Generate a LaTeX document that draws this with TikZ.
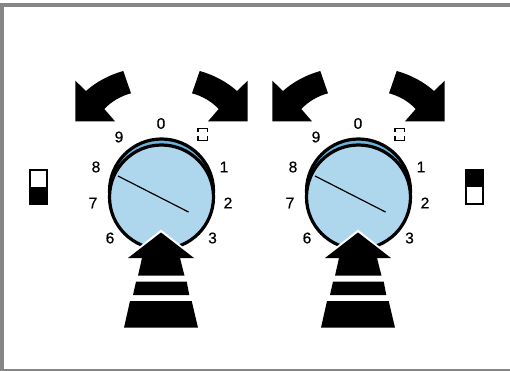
\documentclass[tikz,border=0pt]{standalone}
\usepackage{fontspec}
\setmainfont{Liberation Sans}
\newfontfamily\dialfont[FakeBold=0.5]{Liberation Sans}
\definecolor{dialface}{HTML}{AED6EC}
\definecolor{dialback}{HTML}{6FB3DC}
\definecolor{frameg}{HTML}{858585}
\tikzset{
  lbl/.style={font=\dialfont\fontsize{15.5}{15.5}\selectfont,inner sep=0pt,text=black},
  ring/.style={draw=black,line width=3.2pt},
  needle/.style={draw=black,line width=1.2pt},
  solid black/.style={fill=black,draw=none},
  halo/.style={fill=black,draw=white,line width=3pt,line join=miter},
  swbody/.style={draw=black,line width=2pt,fill=white},
  pictosq/.style={draw=black,line width=1.2pt}
}
\newcommand{\dial}[1]{%
\begin{scope}[xshift=#1pt]
  \draw[solid black] (75.3,80.7) -- (86,91) .. controls (96,82) and (109,75) .. (123.3,71)
    -- (131,93.3) .. controls (121,96) and (112,101) .. (104.3,109) -- (115,121.3) -- (75.3,121.3) -- cycle;
  \draw[solid black] (247.7,80.7) -- (237,91) .. controls (227,82) and (214,75) .. (199.7,71)
    -- (192,93.3) .. controls (202,96) and (211,101) .. (218.7,109) -- (208,121.3) -- (247.7,121.3) -- cycle;
  \path[fill=dialback,ring] (161.5,191) circle (52);
  \path[fill=dialface,ring] (161.5,197) circle (52);
  \draw[needle] (118,176) -- (188.5,212);
  \draw[halo] (161,231.5) -- (195,258.5) -- (127,258.5) -- cycle;
  \fill[white] (142,262) rectangle (180,254);
  \draw[solid black] (161,232.5) -- (194,258) -- (180,258) -- (184.5,275.7) -- (138,275.7) -- (142,258) -- (128,258) -- cycle;
  \draw[solid black] (136,281.7) -- (186.7,281.7) -- (189.3,295) -- (133,295) -- cycle;
  \draw[solid black] (130,301) -- (191.7,301) -- (198,327.7) -- (124,327.7) -- cycle;
  \node[lbl] at (161,123.5) {0};
  \node[lbl] at (119,137) {9};
  \node[lbl] at (96,167) {8};
  \node[lbl] at (93,203) {7};
  \node[lbl] at (110,238) {6};
  \node[lbl] at (212.5,238) {3};
  \node[lbl] at (228,203) {2};
  \node[lbl] at (224,167) {1};
  \draw[pictosq] (198,132) |- (207.2,128.3) -- (207.2,132);
  \draw[pictosq] (198,136.5) |- (207.2,140.3) -- (207.2,136.5);
\end{scope}}
\begin{document}
\begin{tikzpicture}[x=1pt,y=-1pt]
  \useasboundingbox (0,0) rectangle (510,371);
  \fill[white] (0,0) rectangle (510,371);
  \fill[frameg] (0,3.5) rectangle (510,7.3);
  \fill[frameg] (0,3.5) rectangle (4.3,371);
  \fill[frameg] (0,369) rectangle (510,371);
  \dial{0}
  \dial{197}
  \draw[swbody] (30,170) rectangle (47,204);
  \fill[black] (30,187) rectangle (47,204);
  \draw[swbody] (466,170) rectangle (483,204);
  \fill[black] (466,170) rectangle (483,187);
\end{tikzpicture}
\end{document}
